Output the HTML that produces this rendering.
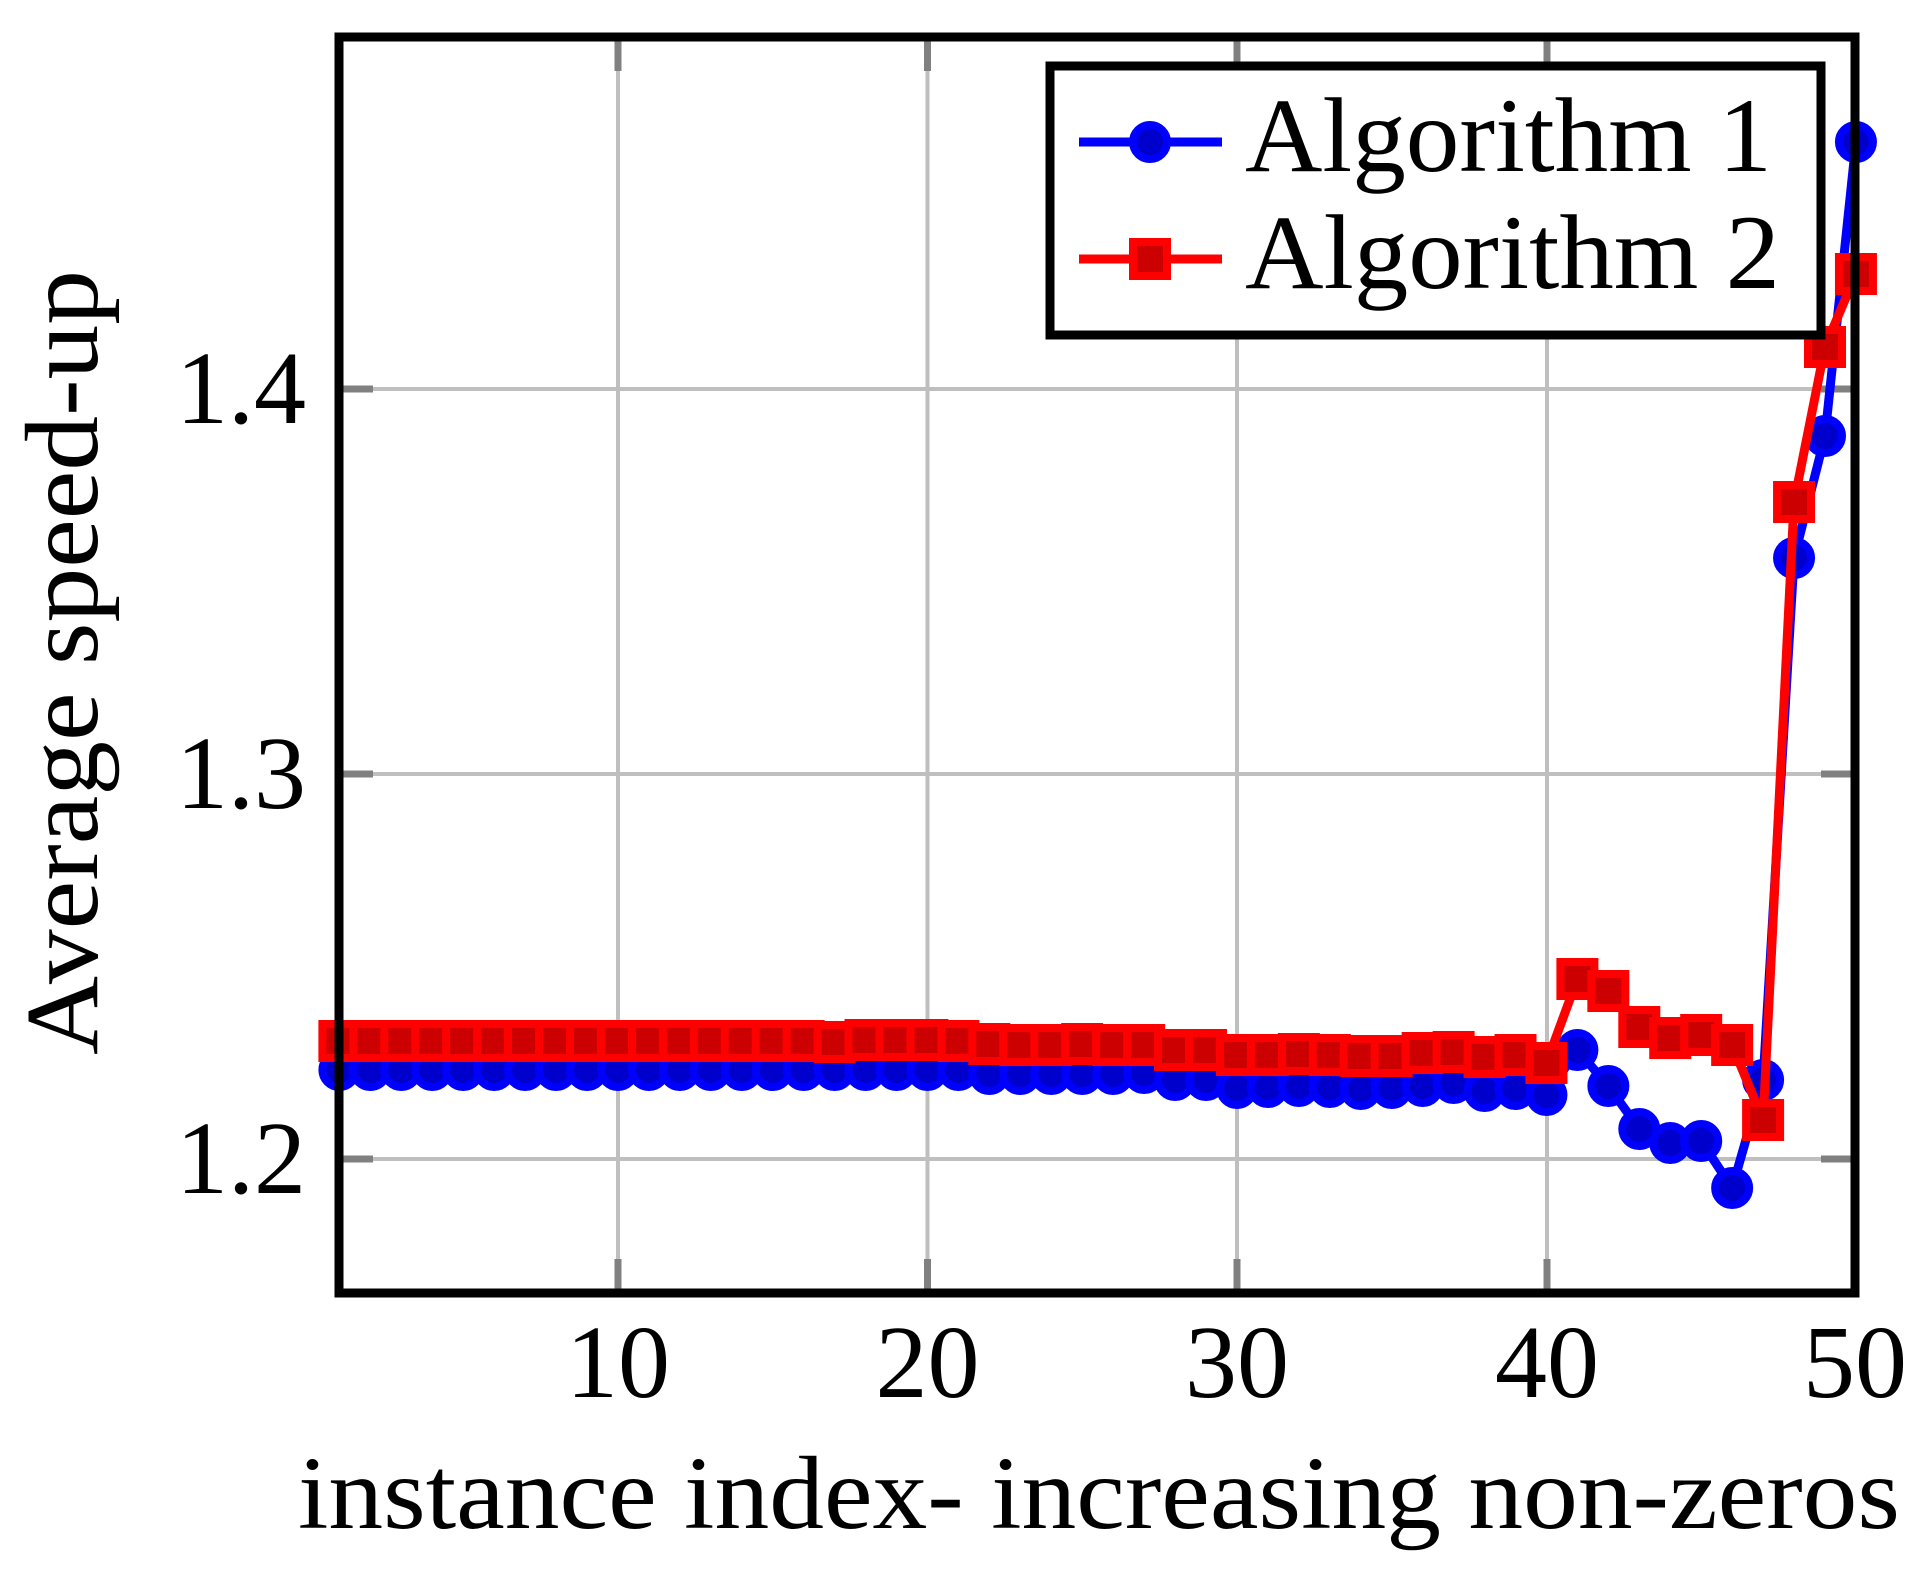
<!DOCTYPE html>
<html><head><meta charset="utf-8"><style>html,body{margin:0;padding:0;background:#fff}svg{display:block}</style></head>
<body>
<svg width="1923" height="1574" viewBox="0 0 1923 1574" xmlns="http://www.w3.org/2000/svg" font-family="'Liberation Serif', serif">
<rect width="1923" height="1574" fill="#fff"/>
<g stroke="#bfbfbf" stroke-width="4">
<line x1="618" y1="37" x2="618" y2="1293"/>
<line x1="927.5" y1="37" x2="927.5" y2="1293"/>
<line x1="1237" y1="37" x2="1237" y2="1293"/>
<line x1="1547" y1="37" x2="1547" y2="1293"/>
<line x1="339" y1="1159" x2="1855" y2="1159"/>
<line x1="339" y1="774" x2="1855" y2="774"/>
<line x1="339" y1="389" x2="1855" y2="389"/>
</g>
<g stroke="#808080" stroke-width="7">
<line x1="618" y1="1293" x2="618" y2="1259"/><line x1="618" y1="37" x2="618" y2="71"/>
<line x1="927.5" y1="1293" x2="927.5" y2="1259"/><line x1="927.5" y1="37" x2="927.5" y2="71"/>
<line x1="1237" y1="1293" x2="1237" y2="1259"/><line x1="1237" y1="37" x2="1237" y2="71"/>
<line x1="1547" y1="1293" x2="1547" y2="1259"/><line x1="1547" y1="37" x2="1547" y2="71"/>
<line x1="339" y1="1159" x2="373" y2="1159"/><line x1="1855" y1="1159" x2="1821" y2="1159"/>
<line x1="339" y1="774" x2="373" y2="774"/><line x1="1855" y1="774" x2="1821" y2="774"/>
<line x1="339" y1="389" x2="373" y2="389"/><line x1="1855" y1="389" x2="1821" y2="389"/>
</g>
<g id="s1"></g>
<g id="s2"></g>
<rect x="339" y="37" width="1516" height="1256" fill="none" stroke="#000" stroke-width="9"/>
<rect x="1050" y="66" width="771" height="269" fill="#fff" stroke="#000" stroke-width="9"/>
<line x1="1079" y1="142" x2="1222" y2="142" stroke="#0000ff" stroke-width="9"/>
<circle cx="1150" cy="142" r="17" fill="#0000cc" stroke="#0000ff" stroke-width="8"/>
<line x1="1079" y1="259" x2="1222" y2="259" stroke="#ff0000" stroke-width="9"/>
<rect x="1133" y="242" width="34" height="34" fill="#cc0000" stroke="#ff0000" stroke-width="8"/>
<text x="1245" y="171" font-size="106" textLength="527" lengthAdjust="spacingAndGlyphs">Algorithm 1</text>
<text x="1245" y="288" font-size="106" textLength="535" lengthAdjust="spacingAndGlyphs">Algorithm 2</text>
<g font-size="104" text-anchor="middle">
<text x="618" y="1397">10</text>
<text x="927.5" y="1397">20</text>
<text x="1237" y="1397">30</text>
<text x="1547" y="1397">40</text>
<text x="1855" y="1397">50</text>
</g>
<g font-size="104" text-anchor="end">
<text x="306" y="1193">1.2</text>
<text x="306" y="808">1.3</text>
<text x="306" y="423">1.4</text>
</g>
<text x="298" y="1528" font-size="104" textLength="1602" lengthAdjust="spacingAndGlyphs">instance index- increasing non-zeros</text>
<text transform="translate(97,1055) rotate(-90)" font-size="104" textLength="785" lengthAdjust="spacingAndGlyphs">Average speed-up</text>
<script>
(function(){
var a1=[1070,1070,1070,1070,1070,1070,1070,1070,1070,1070,1070,1070,1070,1070,1070,1070,1070,1070,1070,1070,1070,1074,1074,1074,1074,1074,1073,1080,1080,1088,1087,1086,1087,1089,1088,1086,1083,1091,1089,1095,1050,1086,1129,1143,1141,1188,1080,558,436,142];
var a2=[1041,1041,1041,1041,1041,1041,1041,1041,1041,1041,1041,1041,1041,1041,1041,1041,1042,1040,1040,1040,1041,1044,1045,1045,1044,1045,1045,1050,1050,1055,1055,1054,1055,1056,1056,1053,1052,1057,1055,1063,979,991,1027,1038,1035,1045,1120,502,347,274];
function X(i){return 339.4+(i)*30.95;}
var ns="http://www.w3.org/2000/svg";
function draw(g,arr,col,fill,sq){
 var p=document.createElementNS(ns,"polyline");
 p.setAttribute("points",arr.map(function(y,i){return X(i)+","+y}).join(" "));
 p.setAttribute("fill","none");p.setAttribute("stroke",col);p.setAttribute("stroke-width","9");p.setAttribute("stroke-linejoin","round");
 g.appendChild(p);
 arr.forEach(function(y,i){var e;
  if(sq){e=document.createElementNS(ns,"rect");e.setAttribute("x",X(i)-17);e.setAttribute("y",y-17);e.setAttribute("width",34);e.setAttribute("height",34);}
  else{e=document.createElementNS(ns,"circle");e.setAttribute("cx",X(i));e.setAttribute("cy",y);e.setAttribute("r",17);}
  e.setAttribute("fill",fill);e.setAttribute("stroke",col);e.setAttribute("stroke-width","8");g.appendChild(e);});
}
draw(document.getElementById("s1"),a1,"#0000ff","#0000cc",false);
draw(document.getElementById("s2"),a2,"#ff0000","#cc0000",true);
})();
</script>
</svg>
</body></html>
